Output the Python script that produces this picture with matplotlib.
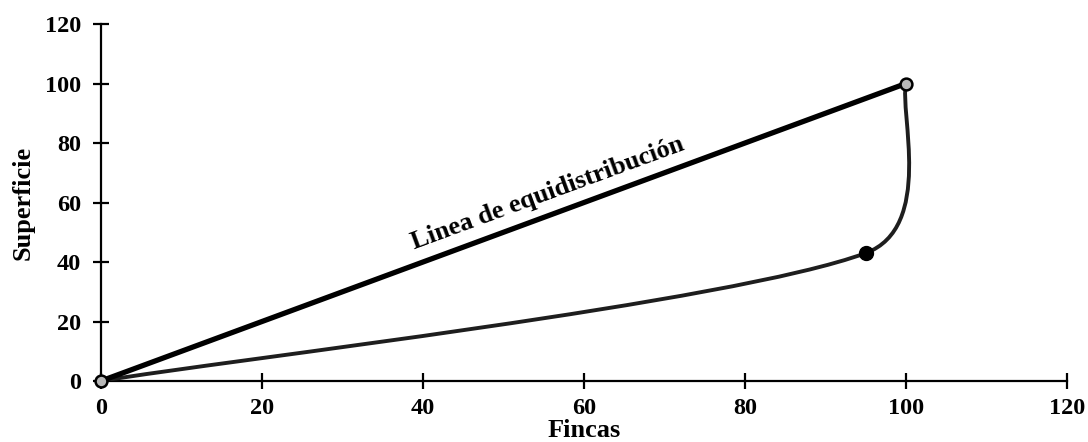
import numpy as np
import matplotlib
matplotlib.use('Agg')
import matplotlib.pyplot as plt
from matplotlib.path import Path
from matplotlib.patches import PathPatch

# data
fincas = [0, 95, 100]
superficie = [0, 43, 100]
equi_x = [0, 100]
equi_y = [0, 100]
x_ticks = [0, 20, 40, 60, 80, 100, 120]
y_ticks = [0, 20, 40, 60, 80, 100, 120]

plt.rcParams['font.family'] = ['Liberation Serif', 'DejaVu Serif']
plt.rcParams['font.weight'] = 'bold'

W, H = 1088, 442
fig = plt.figure(figsize=(W / 100, H / 100), dpi=100)
left, right, bottom, top = 101 / W, 1067 / W, 1 - 381 / H, 1 - 24 / H
fig.subplots_adjust(left=left, right=right, bottom=bottom, top=top)
ax = fig.add_subplot(111)
ax.set_xlim(0, 120)
ax.set_ylim(0, 120)

# pixels per data unit, for a smoothing that looks like a spreadsheet "smooth line"
sx = (right - left) * W / 120
sy = (top - bottom) * H / 120


def smooth_path(xs, ys, k=0.42):
	pts = np.column_stack([np.array(xs) * sx, np.array(ys) * sy]).astype(float)
	n = len(pts)
	verts = [pts[0]]
	codes = [Path.MOVETO]

	def tangent(i):
		a = pts[max(i - 1, 0)]
		b = pts[min(i + 1, n - 1)]
		t = b - a
		return t / np.linalg.norm(t), np.linalg.norm(t)

	for i in range(n - 1):
		seg = np.linalg.norm(pts[i + 1] - pts[i])
		u0, l0 = tangent(i)
		u1, l1 = tangent(i + 1)
		c1 = pts[i] + u0 * min(l0 / 6, k * seg)
		c2 = pts[i + 1] - u1 * min(l1 / 6, k * seg)
		verts += [c1, c2, pts[i + 1]]
		codes += [Path.CURVE4] * 3
	verts = np.array(verts)
	verts[:, 0] /= sx
	verts[:, 1] /= sy
	return Path(verts, codes)


ax.add_patch(PathPatch(smooth_path(fincas, superficie), facecolor='none',
	edgecolor='#1e1e1e', lw=2.8, zorder=3, capstyle='round'))
ax.plot(equi_x, equi_y, color='black', lw=3.8, zorder=4, solid_capstyle='round')

# markers
ax.plot(equi_x, equi_y, 'o', ms=8.5, mfc='#b8b8b8', mec='black', mew=1.8, zorder=5,
	ls='none', clip_on=False)
ax.plot(fincas[1], superficie[1], 'o', ms=10, mfc='black', mec='black', zorder=5)

ax.text(55.5, 63, 'Linea de equidistribución', rotation=20.2, ha='center', va='center',
	fontsize=19, fontweight='bold', rotation_mode='anchor')

for s in ['top', 'right']:
	ax.spines[s].set_visible(False)
for s in ['left', 'bottom']:
	ax.spines[s].set_linewidth(1.6)
ax.set_xticks(x_ticks)
ax.set_yticks(y_ticks)
ax.tick_params(direction='inout', length=11, width=1.6, labelsize=17.5)
ax.tick_params(axis='y', pad=9)
ax.tick_params(axis='x', pad=7)
for lab in ax.get_xticklabels() + ax.get_yticklabels():
	lab.set_fontweight('bold')
ax.set_xlabel('Fincas', fontsize=19, fontweight='bold', labelpad=0)
ax.set_ylabel('Superficie', fontsize=19, fontweight='bold', labelpad=7)

fig.savefig('out.png', dpi=100)
